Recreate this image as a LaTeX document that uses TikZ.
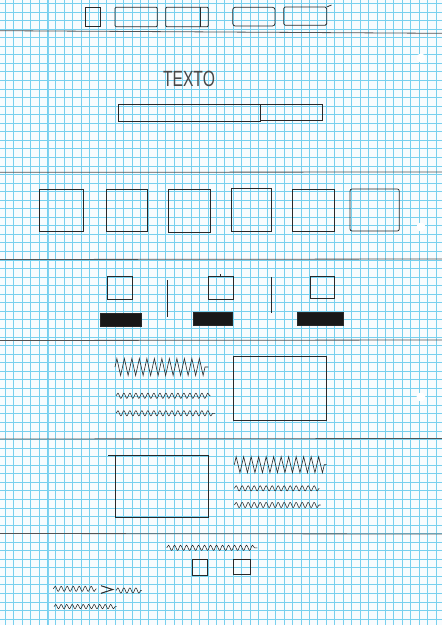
\documentclass[tikz,border=0pt]{standalone}
\usepackage{fontspec}
\setmainfont{Liberation Sans}
\usetikzlibrary{decorations.pathmorphing}
\definecolor{paper}{RGB}{248,252,254}
\definecolor{gridc}{RGB}{120,208,238}
\definecolor{marginc}{RGB}{130,210,242}
\definecolor{pencil}{RGB}{40,40,40}
\begin{document}
\begin{tikzpicture}[x=1pt,y=-1pt,
 gridline/.style={draw=gridc, line width=0.5pt},
 pen/.style={draw=pencil, line width=0.75pt},
 sepline/.style={draw=pencil!80, line width=0.8pt},
 inkfill/.style={fill=pencil!60!black, draw=pencil, line width=0.6pt},
 zz/.style={pen, line width=0.6pt, decorate, decoration={zigzag, amplitude=#1, segment length=7.5}},
 zz/.default=7,
 wave/.style={pen, line width=0.55pt, decorate, decoration={snake, amplitude=2.6, segment length=6}},
 hole/.style={fill=white, draw=none}]
\fill[paper] (0,0) rectangle (442,625);
\useasboundingbox (0,0) rectangle (442,625);
% grid
\foreach \i in {0,...,51} \draw[gridline] ({5+8.45*\i},0) -- ({5+8.45*\i},625);
\foreach \j in {0,...,73} \draw[gridline] (0,{3.3+8.55*\j}) -- (442,{3.3+8.55*\j});
\draw[draw=marginc, line width=1.6pt] (48.5,0) -- (48.5,625);
% holes
\foreach \yy in {58,227,397} \fill[hole] (421,\yy) circle (4.5);
% separator lines
\draw[sepline] (0,30.7) -- (442,33.3);
\draw[sepline] (0,172.3) -- (442,172);
\draw[sepline] (0,259.5) -- (442,259);
\draw[sepline] (0,340.5) -- (442,340);
\draw[sepline] (0,439) -- (442,438.5);
\draw[sepline] (0,533.5) -- (442,534);
% top navigation
\draw[pen] (85.7,7.3) rectangle (100,26);
\draw[pen, rounded corners=1pt] (115,7.3) rectangle (157.3,26.7);
\draw[pen, rounded corners=1pt] (165.7,7.3) rectangle (208.3,26.7);
\draw[pen] (200,7.3) -- (200,26.7);
\draw[pen, rounded corners=2.5pt] (232.7,7.3) rectangle (275,26);
\draw[pen, rounded corners=1.5pt] (283.7,7) rectangle (326.7,25.3);
\draw[pen] (326.7,7) -- (331.5,5);
% title and search bar
\node[font=\fontsize{22}{22}\selectfont, text=pencil!85, xscale=0.71, inner sep=0] (title) at (189,79) {TEXTO};
\draw[pen] (118.3,104.3) rectangle (260,121.7);
\draw[pen] (260,104) rectangle (322.7,120.7);
% six boxes
\draw[pen] (39.3,189) rectangle (83.3,231);
\draw[pen] (106,189) rectangle (147,231);
\draw[pen] (168.3,189) rectangle (210,232.5);
\draw[pen] (231.7,188.5) rectangle (271.7,231.5);
\draw[pen] (292.3,189) rectangle (334.3,231);
\draw[pen, rounded corners=2pt] (350,189) rectangle (399.3,231);
% icons row
\draw[pen] (107.7,276) rectangle (132.7,299.3);
\draw[pen] (208.3,276.7) rectangle (233.3,299.3);
\draw[pen] (220,276.7) -- (220,273.5);
\draw[pen] (310,276) rectangle (334.3,298);
\draw[pen, line width=0.6pt] (167.3,280) -- (167.3,316.7);
\draw[pen, line width=0.6pt] (271.7,277.3) -- (271.7,312.7);
\draw[inkfill] (100,313.3) rectangle (141.7,326.7);
\draw[inkfill] (193.3,312.7) rectangle (232.7,325.7);
\draw[inkfill] (297.7,312.7) rectangle (343.3,325.7);
% text block + image
\draw[zz=8.5] (115,367) -- (208.3,367);
\draw[wave] (116,395.8) -- (210.7,395.8);
\draw[wave] (116,413.3) -- (215,413.3);
\draw[pen] (233.3,356) rectangle (326.7,420.7);
% image + text block
\draw[pen] (115,455) rectangle (208.3,517.7);
\draw[pen] (108,455) -- (115,455);
\draw[zz=8] (234.3,464.7) -- (326.7,464.7);
\draw[wave] (234.3,488.3) -- (319.3,488.3);
\draw[wave] (234.3,505) -- (320.7,505);
% footer
\draw[wave] (166.7,547.8) -- (257.3,547.8);
\draw[pen, line width=1pt] (192.3,559.3) rectangle (207.3,575);
\draw[pen] (233.3,559.3) rectangle (250,574.3);
\draw[wave] (53.3,588.8) -- (96.7,588.8);
\draw[pen, line width=1pt] (101,585.7) -- (112.7,589.5) -- (101,593.3);
\draw[wave] (116,590.5) -- (141.7,590.5);
\draw[wave, decoration={snake, amplitude=2.2, segment length=5.5}] (54,606.6) -- (116.7,606.6);
\end{tikzpicture}
\end{document}
